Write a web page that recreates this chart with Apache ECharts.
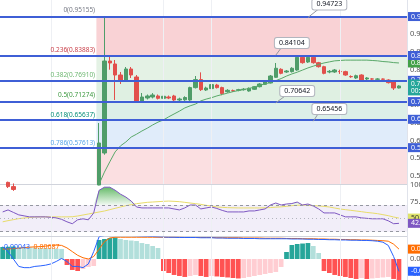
<!DOCTYPE html>
<html><head><meta charset="utf-8">
<script src="https://cdn.jsdelivr.net/npm/echarts@6/dist/echarts.min.js"></script>
<style>html,body{margin:0;padding:0;background:#fff}#c{width:420px;height:280px}</style>
</head><body><div id="c"></div>
<script>
// ---------- data ----------
const categories = Array.from({length: 76}, (_, i) => String(i));
const openP  = [0.470,0.482,0.470,0.462,0.455,0.459,0.452,0.448,0.451,0.455,0.450,0.446,0.443,0.438,0.435,0.441,0.446,0.450,
  0.4745,0.5649,0.8245,0.8161,0.7850,0.7709,0.8020,0.7794,0.7117,0.7201,0.7229,0.7258,0.7192,0.7229,0.7258,0.7145,0.7150,
  0.7145,0.7494,0.7720,0.7427,0.7466,0.7568,0.7494,0.7380,0.7408,0.7418,0.7436,0.7399,0.7446,0.7520,0.7587,0.7625,0.7785,
  0.8011,0.7935,0.7945,0.7991,0.8349,0.8217,0.8349,0.8198,0.8085,0.7935,0.7935,0.7950,0.7945,0.7808,0.7766,0.7850,0.7737,
  0.7740,0.7730,0.7737,0.7709,0.7662,0.7483];
const closeP = [0.466,0.470,0.462,0.455,0.459,0.452,0.448,0.451,0.455,0.450,0.446,0.443,0.438,0.435,0.441,0.446,0.450,0.458,
  0.5931,0.8245,0.8189,0.7850,0.7709,0.8020,0.7850,0.7117,0.7229,0.7258,0.7286,0.7192,0.7250,0.7201,0.7145,0.7173,0.7215,
  0.7494,0.7720,0.7437,0.7483,0.7579,0.7494,0.7325,0.7418,0.7403,0.7436,0.7450,0.7475,0.7520,0.7596,0.7662,0.7822,0.8040,
  0.7898,0.7963,0.8040,0.8349,0.8198,0.8349,0.8198,0.8085,0.7897,0.7955,0.7991,0.7945,0.7850,0.7800,0.7830,0.7709,0.7766,
  0.7735,0.7737,0.7730,0.7634,0.7483,0.7540];
const lowP   = [0.462,0.466,0.458,0.450,0.451,0.448,0.444,0.445,0.447,0.446,0.442,0.439,0.434,0.430,0.432,0.437,0.442,0.447,
  0.4739,0.5600,0.8000,0.7145,0.7596,0.7653,0.7766,0.7064,0.7070,0.7160,0.7190,0.7160,0.7150,0.7170,0.7100,0.7110,0.7120,
  0.7120,0.7470,0.7399,0.7400,0.7440,0.7470,0.7280,0.7350,0.7370,0.7390,0.7410,0.7380,0.7430,0.7500,0.7570,0.7610,0.7770,
  0.7870,0.7910,0.7920,0.7970,0.8170,0.8190,0.8170,0.8060,0.7870,0.7900,0.7910,0.7880,0.7830,0.7770,0.7740,0.7680,0.7710,
  0.7710,0.7710,0.7710,0.7610,0.7427,0.7470];
const highP  = [0.474,0.484,0.479,0.466,0.463,0.462,0.456,0.455,0.460,0.458,0.453,0.450,0.447,0.442,0.445,0.450,0.455,0.463,
  0.6495,0.95155,0.8358,0.8274,0.7935,0.8076,0.8076,0.7850,0.7342,0.7300,0.7340,0.7300,0.7290,0.7270,0.7290,0.7210,0.7250,
  0.7520,0.7822,0.7925,0.7520,0.7610,0.7600,0.7520,0.7450,0.7440,0.7460,0.7480,0.7500,0.7540,0.7620,0.7690,0.7850,0.8189,
  0.8040,0.7990,0.8070,0.84104,0.8380,0.8390,0.8370,0.8220,0.8110,0.7990,0.8020,0.8000,0.7970,0.7840,0.7860,0.7870,0.7790,
  0.7760,0.7760,0.7750,0.7730,0.7680,0.7560];
const maValues = [null,null,null,null,null,null,null,null,null,null,null,null,null,null,null,null,null,null,
  0.477,0.511,0.540,0.568,0.585,0.596,0.610,0.618,0.627,0.635,0.644,0.652,0.658,0.667,0.675,0.683,0.692,0.698,0.703,
  0.712,0.717,0.721,0.726,0.730,0.734,0.738,0.741,0.744,0.747,0.751,0.756,0.760,0.764,0.769,0.775,0.782,0.788,0.793,
  0.799,0.805,0.810,0.815,0.819,0.822,0.825,0.826,0.827,0.827,0.827,0.827,0.827,0.826,0.825,0.823,0.822,0.820,0.819];
const rsiValues = [59.6,62.6,58.9,55.2,53.7,52.2,52.2,52.2,52.2,51.5,50.7,48.5,44.8,41.9,47.8,49.3,47.8,58.1,
  92.0,96.7,96.7,92.2,86.3,81.9,75.9,67.0,65.6,65.6,65.6,65.6,65.6,65.6,64.1,62.6,65.6,70.0,70.0,64.1,65.6,67.0,64.8,
  61.9,59.6,59.6,59.6,59.6,61.1,61.1,62.6,64.1,70.0,73.0,70.0,71.5,72.2,74.4,70.0,71.5,68.5,64.1,58.1,58.1,58.1,55.2,
  52.2,52.2,52.2,50.7,50.0,49.3,49.3,49.3,46.3,41.9,42.5];
const rsiMaValues = [44.8,46.5,48.0,49.5,50.5,51.3,52.0,52.2,52.2,52.2,52.2,52.2,52.2,52.4,53.5,55.0,56.5,58.0,
  59.5,61.0,63.0,65.0,67.0,69.0,70.5,72.0,73.0,74.0,74.5,75.0,75.5,75.9,75.5,75.0,74.0,73.0,72.0,71.0,69.5,68.5,67.0,
  66.5,66.0,65.8,65.6,65.6,65.6,65.6,65.6,65.8,66.2,66.8,67.2,68.0,69.0,69.6,70.0,69.6,69.0,68.5,68.0,67.0,65.5,64.0,
  63.0,62.0,61.0,60.0,58.8,58.0,57.0,55.5,54.0,52.0,50.4];
const histValues = [0.00485,0.00497,0.00505,0.00493,0.00485,0.00473,0.00457,0.00444,0.00440,0.00432,0.00416,0.00404,
  -0.00242,-0.00444,-0.00485,-0.00404,-0.00323,-0.00283,0.00768,0.00808,0.00848,0.00869,0.00808,0.00768,0.00747,0.00727,
  0.00646,0.00606,0.00525,0.00444,-0.00485,-0.00566,-0.00646,-0.00687,-0.00727,-0.00687,-0.00646,-0.00687,-0.00727,
  -0.00687,-0.00707,-0.00727,-0.00747,-0.00768,-0.00788,-0.00768,-0.00727,-0.00687,-0.00646,-0.00606,-0.00566,-0.00525,
  -0.00323,0.00283,0.00566,0.00606,0.00626,0.00646,0.00525,0.00242,-0.00485,-0.00566,-0.00646,-0.00687,-0.00727,-0.00768,
  -0.00808,-0.00768,-0.00808,-0.00788,-0.00768,-0.00747,-0.00727,-0.00808,-0.00848];
const macdValues = [0.0050,0.0030,0.0000,-0.0030,-0.0035,-0.0035,-0.0030,-0.0028,-0.0025,-0.0020,-0.0010,0.0002,
  -0.0010,-0.0030,-0.0030,-0.0035,-0.0020,0.0030,0.0090,0.0095,0.0095,0.0095,0.0095,0.0095,0.0095,0.0094,0.0093,0.0092,
  0.0091,0.0090,0.0089,0.0088,0.0088,0.0087,0.0087,0.0087,0.0087,0.0086,0.0086,0.0086,0.0085,0.0085,0.0084,0.0084,0.0084,
  0.0083,0.0083,0.0083,0.0082,0.0082,0.0082,0.0082,0.0082,0.0082,0.0081,0.0081,0.0081,0.0080,0.0080,0.0079,0.0079,0.0078,
  0.0078,0.0077,0.0077,0.0076,0.0076,0.0075,0.0075,0.0074,0.0072,0.0068,0.0055,0.0010,-0.0050];
const signalValues = [0.0040,0.0041,0.0042,0.0044,0.0046,0.0048,0.0049,0.0050,0.0052,0.0055,0.0056,0.0055,
  0.0045,0.0030,0.0015,0.0005,0.0000,0.0010,0.0040,0.0070,0.0085,0.0088,0.0088,0.0088,0.0088,0.0088,0.0088,0.0088,0.0088,
  0.0088,0.0088,0.0088,0.0088,0.0088,0.0087,0.0087,0.0087,0.0087,0.0087,0.0087,0.0086,0.0086,0.0086,0.0086,0.0086,0.0085,
  0.0085,0.0085,0.0085,0.0084,0.0084,0.0084,0.0084,0.0083,0.0083,0.0083,0.0082,0.0082,0.0082,0.0081,0.0081,0.0080,0.0080,
  0.0079,0.0079,0.0078,0.0078,0.0077,0.0077,0.0076,0.0075,0.0074,0.0072,0.0060,0.0040];
const fibRatios = ['0', '0.236', '0.382', '0.5', '0.618', '0.786'];
const fibPrices = [0.95155, 0.83883, 0.76910, 0.71274, 0.65637, 0.57613];
const fibLowPrice = 0.4739;
const fibStartIndex = 18;
const priceTicks = [0.95, 0.90, 0.85, 0.80, 0.75, 0.70, 0.65, 0.60, 0.55, 0.50];
const rsiTicks = [100, 75];
const macdTicks = [0, -0.006];
// price callouts: label text, box anchor (index, price), pointed level (index, price)
const calloutText   = ['0.94723', '0.84104', '0.70642', '0.65456'];
const calloutBoxIdx = [61.3, 54.0, 55.0, 61.1];
const calloutBoxPx  = [0.9840, 0.8753, 0.7399, 0.6891];
const calloutTipIdx = [57.4, 50.5, 51.4, 58.0];
const calloutTipPx  = [0.94723, 0.84104, 0.70642, 0.65456];
const calloutEdgeIdx = [58.8, 51.9, 52.5, 58.9];
const calloutEdgePx  = [0.9713, 0.8612, 0.7286, 0.6778];
const trendFrom = [18, 0.4746], trendTo = [75, 0.94723];
const gridIdx = [9, 30, 39, 63];
const macdLegend = ['0.00043', '0.00687'];
const countdown = '00:27:13';

// ---------- styles ----------
const F = '"Noto Sans", "DejaVu Sans", sans-serif';
const UP = '#4f9d69', DOWN = '#e2504c';
const fibLineColor = '#3f5fd6';
const fibTextColors = ['#787b86', '#c9404a', '#6fb873', '#3f9a43', '#088f79', '#5aa7e8'];
const zoneColors = ['#f9d2d5', '#e4f2e5', '#dff0e2', '#dcefe8', '#e0ecfa', '#fbdfe1'];
const HIDDEN = {color: 'rgba(0,0,0,0)', width: 0};

const chart = echarts.init(document.getElementById('c'), null, {renderer: 'canvas'});

const candleData = openP.map((o, i) => [o, closeP[i], lowP[i], highP[i]]);
while (candleData.length < categories.length) candleData.push('-');

const fibMarkLines = [];
fibPrices.forEach((p, i) => {
  fibMarkLines.push({
    yAxis: p,
    lineStyle: {color: fibLineColor, width: 2, type: 'solid'},
    label: {show: true, position: 'end', distance: 1, formatter: p.toFixed(5),
      backgroundColor: fibLineColor, color: '#fff', fontSize: 7, fontFamily: F, padding: [1, 2, 0, 3], lineHeight: 8}
  });
  fibMarkLines.push([
    {coord: [0, p], lineStyle: HIDDEN,
     label: {show: true, position: 'insideEndTop', distance: [4, 2], formatter: fibRatios[i] + '(' + p.toFixed(5) + ')',
       color: fibTextColors[i], fontSize: 6.5, fontFamily: F}},
    {coord: [fibStartIndex, p]}
  ]);
});
fibMarkLines.push([
  {coord: trendFrom, lineStyle: {color: '#9598a1', width: 1, type: [2, 3]}, label: {show: false}},
  {coord: trendTo}
]);
calloutText.forEach((t, i) => {
  fibMarkLines.push([
    {coord: [calloutTipIdx[i], calloutTipPx[i]], lineStyle: {color: '#9598a1', width: 1, type: 'solid'}, label: {show: false}},
    {coord: [calloutEdgeIdx[i], calloutEdgePx[i]]}
  ]);
});
const lastClose = closeP[closeP.length - 1];
fibMarkLines.push({
  yAxis: lastClose, lineStyle: HIDDEN,
  label: {show: true, position: 'end', distance: 1, formatter: lastClose.toFixed(5) + '\n' + countdown,
    backgroundColor: '#26a69a', color: '#fff', fontSize: 6.5, fontFamily: F, padding: [1, 2, 1, 3], lineHeight: 7}
});

const gridLineSeries = (xi, yi) => ({
  type: 'line', xAxisIndex: xi, yAxisIndex: yi, data: [], silent: true, z: 0,
  markLine: {symbol: 'none', silent: true, animation: false,
    lineStyle: {color: '#eef0f4', width: 1, type: 'solid'}, label: {show: false},
    data: gridIdx.map(g => ({xAxis: g}))}
});

const gridBase = {left: 0, right: 13, containLabel: false, outerBoundsMode: 'none'};
const option = {
  animation: false,
  backgroundColor: '#ffffff',
  grid: [
    Object.assign({top: 0, height: 184}, gridBase),
    Object.assign({top: 185, height: 51}, gridBase),
    Object.assign({top: 237, height: 43}, gridBase)
  ],
  xAxis: [0, 1, 2].map(g => ({
    type: 'category', gridIndex: g, data: categories, boundaryGap: true,
    axisLine: {show: g < 2, onZero: false, lineStyle: {color: '#d1d4dc'}},
    axisTick: {show: false}, axisLabel: {show: false}, splitLine: {show: false}
  })),
  yAxis: [
    {type: 'value', gridIndex: 0, position: 'right', min: 0.4774, max: 0.9967, scale: true,
      axisLine: {show: true, lineStyle: {color: '#e0e3eb'}}, axisTick: {show: false}, splitLine: {show: false},
      axisLabel: {customValues: priceTicks, formatter: v => v.toFixed(5), color: '#555', fontSize: 7.5, fontFamily: F, margin: 3}},
    {type: 'value', gridIndex: 1, position: 'right', min: 23.5, max: 100,
      axisLine: {show: true, lineStyle: {color: '#e0e3eb'}}, axisTick: {show: false}, splitLine: {show: false},
      axisLabel: {customValues: rsiTicks, formatter: v => v.toFixed(2), color: '#555', fontSize: 7.5, fontFamily: F, margin: 3}},
    {type: 'value', gridIndex: 2, position: 'right', min: -0.0085, max: 0.0089,
      axisLine: {show: true, lineStyle: {color: '#e0e3eb'}}, axisTick: {show: false}, splitLine: {show: false},
      axisLabel: {customValues: macdTicks, formatter: v => v.toFixed(5), color: '#555', fontSize: 7.5, fontFamily: F, margin: 3}}
  ],
  title: {
    left: -1, top: 238, text: '{a|' + macdLegend[0] + '}  {b|' + macdLegend[1] + '}',
    textStyle: {fontSize: 7, fontFamily: F, fontWeight: 'normal', rich: {
      a: {color: '#2962ff', fontSize: 7, fontFamily: F}, b: {color: '#ff6d00', fontSize: 7, fontFamily: F}}}
  },
  graphic: [{
    type: 'group', left: 347, top: 171, children: [
      {type: 'circle', shape: {cx: 6, cy: 6, r: 5.5}, style: {fill: '#fff', stroke: '#9c27b0', lineWidth: 1}},
      {type: 'text', x: 6, y: 6, style: {text: '⚡', fill: '#9c27b0', font: '7px "DejaVu Sans"', align: 'center', verticalAlign: 'middle'}}
    ]
  }],
  series: [
    gridLineSeries(0, 0), gridLineSeries(1, 1), gridLineSeries(2, 2),
    {
      type: 'custom', xAxisIndex: 0, yAxisIndex: 0, z: 1, silent: true,
      data: fibPrices.map((p, i) => [fibStartIndex, p, i + 1 < fibPrices.length ? fibPrices[i + 1] : fibLowPrice]),
      encode: {x: 0, y: [1, 2]},
      renderItem(params, api) {
        const a = api.coord([api.value(0), api.value(1)]);
        const b = api.coord([api.value(0), api.value(2)]);
        const bw = api.size([1, 0])[0];
        const cs = params.coordSys;
        const x0 = a[0] - bw / 2;
        const y1 = Math.max(a[1], cs.y), y2 = Math.min(b[1], cs.y + cs.height);
        return {type: 'rect', shape: {x: x0, y: y1, width: cs.x + cs.width - x0, height: y2 - y1},
          style: {fill: zoneColors[params.dataIndex]}};
      }
    },
    {
      type: 'candlestick', xAxisIndex: 0, yAxisIndex: 0, z: 3, data: candleData, barWidth: 4, clip: true,
      itemStyle: {color: UP, color0: DOWN, borderColor: UP, borderColor0: DOWN, borderWidth: 1},
      markLine: {symbol: 'none', silent: true, animation: false, data: fibMarkLines},
      markPoint: {silent: true, animation: false, symbol: 'rect', symbolSize: 0,
        data: calloutText.map((t, i) => ({coord: [calloutBoxIdx[i], calloutBoxPx[i]], value: t})),
        label: {show: true, position: 'inside', formatter: p => p.value, color: '#131722', fontSize: 7, fontFamily: F,
          backgroundColor: '#fff', borderColor: '#b2b5be', borderWidth: 1, borderRadius: 2, padding: [2, 4, 1, 4]}}
    },
    {
      type: 'line', xAxisIndex: 0, yAxisIndex: 0, z: 4, data: maValues, showSymbol: false, connectNulls: false,
      lineStyle: {color: '#5aa86a', width: 1},
      endLabel: {show: true, distance: 9, formatter: p => p.value.toFixed(5), backgroundColor: '#43a047',
        color: '#fff', fontSize: 7, fontFamily: F, padding: [1, 2, 0, 3], lineHeight: 8}
    },
    // RSI panel
    {
      type: 'line', xAxisIndex: 1, yAxisIndex: 1, z: 2, stack: 'ob', data: rsiValues.map(() => 70),
      showSymbol: false, lineStyle: {opacity: 0}, silent: true,
      markArea: {silent: true, itemStyle: {color: 'rgba(126,87,194,0.1)'}, data: [[{yAxis: 30}, {yAxis: 70}]]},
      markLine: {symbol: 'none', silent: true, label: {show: false},
        data: [
          {yAxis: 70, lineStyle: {color: '#9598a1', type: [3, 3], width: 1}},
          {yAxis: 50, lineStyle: {color: '#b2b5be', type: [1, 3], width: 1}},
          {yAxis: 30, lineStyle: {color: '#9598a1', type: [3, 3], width: 1}}
        ]}
    },
    {
      type: 'line', xAxisIndex: 1, yAxisIndex: 1, z: 2, stack: 'ob', data: rsiValues.map(v => Math.max(v - 70, 0)),
      showSymbol: false, lineStyle: {opacity: 0}, silent: true,
      areaStyle: {color: new echarts.graphic.LinearGradient(0, 0, 0, 1, [
        {offset: 0, color: 'rgba(76,175,80,0.85)'}, {offset: 1, color: 'rgba(76,175,80,0.08)'}]), opacity: 1}
    },
    {
      type: 'line', xAxisIndex: 1, yAxisIndex: 1, z: 3, data: rsiMaValues, showSymbol: false,
      lineStyle: {color: '#e8dc6a', width: 1},
      endLabel: {show: true, distance: 9, formatter: p => p.value.toFixed(2), backgroundColor: '#dfe36b',
        color: '#333', fontSize: 7, fontFamily: F, padding: [1, 2, 0, 3], lineHeight: 8}
    },
    {
      type: 'line', xAxisIndex: 1, yAxisIndex: 1, z: 4, data: rsiValues, showSymbol: false,
      lineStyle: {color: '#7e57c2', width: 1},
      endLabel: {show: true, distance: 9, formatter: p => p.value.toFixed(2), backgroundColor: '#7e57c2',
        color: '#fff', fontSize: 7, fontFamily: F, padding: [1, 2, 0, 3], lineHeight: 8}
    },
    // MACD panel
    {
      type: 'bar', xAxisIndex: 2, yAxisIndex: 2, z: 2, data: histValues, barCategoryGap: '12%', clip: true,
      itemStyle: {color: p => {
        const v = histValues[p.dataIndex], prev = p.dataIndex > 0 ? histValues[p.dataIndex - 1] : -Infinity;
        if (v >= 0) return prev < v ? '#26a69a' : '#b2dfdb';
        return prev < v ? '#ffcdd2' : '#ff5252';
      }}
    },
    {
      type: 'line', xAxisIndex: 2, yAxisIndex: 2, z: 3, data: signalValues, showSymbol: false,
      lineStyle: {color: '#ff6d00', width: 1}, clip: true,
      endLabel: {show: true, distance: 9, formatter: p => p.value.toFixed(5), backgroundColor: '#ff6d00',
        color: '#fff', fontSize: 7, fontFamily: F, padding: [1, 2, 0, 3], lineHeight: 8}
    },
    {
      type: 'line', xAxisIndex: 2, yAxisIndex: 2, z: 4, data: macdValues, showSymbol: false,
      lineStyle: {color: '#2962ff', width: 1}, clip: true,
      endLabel: {show: true, distance: 9, formatter: p => p.value.toFixed(5), backgroundColor: '#2962ff',
        color: '#fff', fontSize: 7, fontFamily: F, padding: [1, 2, 0, 3], lineHeight: 8}
    }
  ]
};
chart.setOption(option);
</script>
</body></html>
